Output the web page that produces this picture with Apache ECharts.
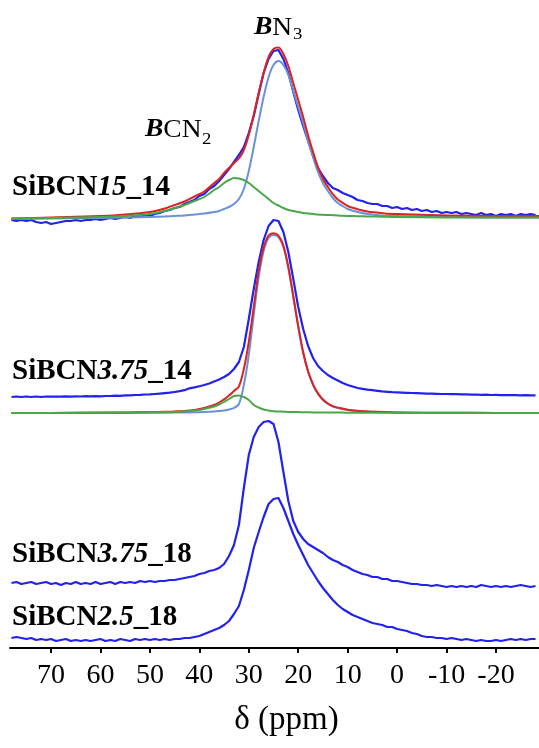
<!DOCTYPE html>
<html><head><meta charset="utf-8">
<script src="https://cdn.jsdelivr.net/npm/echarts@6/dist/echarts.min.js"></script>
<style>html,body{margin:0;padding:0;background:#fff}#c{width:539px;height:748px}</style>
</head><body><div id="c"></div>
<script>
// chemical shift grid of the measured spectra (ppm)
const ppm = [78,77,76,75,74,73,72,71,70,69,68,67,66,65,64,63,62,61,60,59,58,57,56,55,54,53,52,51,50,49,48,47,46,45,44,43,42,41,40,39,38,37,36,35,34,33,32,31,30,29,28,27,26,25,24,23,22,21,20,19,18,17,16,15,14,13,12,11,10,9,8,7,6,5,4,3,2,1,0,-1,-2,-3,-4,-5,-6,-7,-8,-9,-10,-11,-12,-13,-14,-15,-16,-17,-18,-19,-20,-21,-22,-23,-24,-25,-26,-27,-28];

// measured spectra (intensity, arbitrary units, relative to each baseline)
const sibcn15_14 = [-1,-2,-1,-2,-1,-3,-4,-3,-5,-4,-3,-2,-2,-1,-2,-1,-1,0,-1,0,1,0,1,2,1,3,2,4,3,5,6,8,9,11,12,15,17,19,23,25,30,33,38,44,50,57,64,72,86,103,125,146,160,168,169,160,146,127,109,93,78,63,51,43,36,31,29,26,24,22,19,18,16,15,15,13,13,11,12,10,11,9,10,8,9,7,8,6,7,6,7,5,6,5,4,6,4,5,3,5,4,5,3,5,4,5,4];
const sibcn375_14 = [0,0.5,0,0.5,0,0.5,0,0.5,0.3,0.5,0.3,0.6,0.4,0.7,0.5,0.8,0.6,0.9,0.7,1,1,1.3,1.2,1.6,1.6,2,2.1,2.5,2.6,3,3.4,3.8,4.3,5,5.8,6.8,8.7,9.6,10.8,12,13.5,15.5,17.5,20,23,28,35,50,78,108,135,157,171,177,176,165,145,118,90,68,51,39,31,26,22,19,16.5,14,12,10.5,9,8.2,7.4,6.8,6.2,5.6,5.2,4.8,4.6,4.3,4.1,4,3.8,3.6,3.4,3.3,3.1,3,3,2.8,2.9,2.6,2.6,2.4,2.5,2.2,2.3,2,2.2,1.9,2,1.8,1.9,1.6,1.8,1.6,1.7];
const sibcn375_18 = [0,1,-1,0,1,-1,0,1,-1,0,-2,0,-1,1,-1,0,-1,1,-1,0,1,-1,1,0,1,0,2,1,2,1,2,2,3,3,4,5,6,7,9,10,12,13,15,19,27,38,58,95,128,146,156,161,162,159,141,111,82,62,51,44,39,36,33,30,26,23,21,18,16,13,11,9,8,6,6,4,4,2,2,1,0,-1,-1,-2,-2,-3,-2,-3,-4,-3,-4,-3,-4,-3,-4,-2,-3,-4,-3,-4,-3,-4,-3,-2,-3,-4,-3];
const sibcn25_18 = [2,3,2,1,2,0,1,0,1,-1,0,1,-1,0,-1,0,-1,0,1,-1,0,-1,1,0,-1,1,0,1,0,1,0,1,0,1,1,2,2,3,4,6,8,10,12,15,19,26,34,50,70,92,108,123,136,141,142,132,119,106,95,85,75,67,59,52,46,40,35,31,28,25,23,21,19,17,16,15,13,13,11,10,9,7,6,4,3,3,2,2,1,2,1,0,1,0,-1,0,-1,-1,0,-1,0,1,0,1,0,1,1];

// fitted components (ppm grid of the fits)
const fitPpm = [78,70,60,55,50,47,45,43,41,39,37,36,35,34,33,32,31,30,29,28,27,26,25,24,23,22,21,20,19,18,17,16,15,14,13,12,11,10,8,6,4,2,0,-10,-20,-28.7];
const fit15_sum  = [0.5,1.5,3,4.5,7,10.5,14,17.5,22.5,27.5,36,40,46,51,56,60.5,69,84,104,126,146,162,170,171.5,165,153,136,119,102,83.5,67,51.5,40.2,32,24.8,19.5,16.2,13,9.8,7.6,6.4,5.2,5,3.5,3,3];
const fit15_bn3  = [0,0.5,1,1.5,2,2.5,3,3.5,4.5,5.5,7,8,10,12,15,20,30,48,72,98,122,142,154,158,154,144,128,112,96,78,62,47,36,28,21,16,13,10,7,5,4,3,3,2,1.5,1.5];
const fit15_bcn2 = [0.5,1,2,3,5,8,11,14,18,22,29,32,36,39,41,40.5,39,36,32,28,24,20,16,13.5,11,9,8,7,6,5.5,5,4.5,4.2,4,3.8,3.5,3.2,3,2.8,2.6,2.4,2.2,2,1.5,1.5,1.5];
const fit375_sum  = [0,0.1,0.4,0.6,0.9,1.2,1.6,2.1,3.1,5,8,10.5,13.6,17.5,22,26.5,44,71,106,141.5,165.5,177.5,179.8,177.5,167.3,146.1,117,86.9,60.8,41.7,28.6,19.6,13.5,9.5,6.9,5.4,4.4,3.3,2.3,1.6,1.2,0.9,0.6,0.2,0.1,0];
const fit375_bn3  = [0,0,0.1,0.1,0.2,0.3,0.4,0.5,0.7,1,1.5,2,2.6,3.5,5,9,28,58,98,136,162,175,178,176,166,145,116,86,60,41,28,19,13,9,6.5,5,4,3,2,1.4,1,0.7,0.5,0.2,0.1,0];
const fit375_bcn2 = [0,0.1,0.3,0.5,0.7,0.9,1.2,1.6,2.4,4,6.5,8.5,11,14,17,17.5,16,13,8,5.5,3.5,2.5,1.8,1.5,1.3,1.1,1,0.9,0.8,0.7,0.6,0.6,0.5,0.5,0.4,0.4,0.4,0.3,0.3,0.2,0.2,0.2,0.1,0,0,0];

const tickValues = [70,60,50,40,30,20,10,0,-10,-20];
const sampleNames = [['SiBCN','15','_14'],['SiBCN','3.75','_14'],['SiBCN','3.75','_18'],['SiBCN','2.5','_18']];
const peakNames = [['B','N','3'],['B','CN','2']];

// layout (stacking offsets, pixels-like units)
const off = {s15: 429, s375: 251, f375: 235, s375_18: 65, s25: 8};
const BLUE = '#2222ee', RED = '#dd2222', LBLUE = '#6a92d8', GREEN = '#4aa84a';

function pts(xs, ys, o) { return xs.map((x, i) => [x, ys[i] + o]); }
function line(name, data, color, width, smooth, z) {
  return {type: 'line', name, data, showSymbol: false, smooth: smooth, z: z, silent: true,
    lineStyle: {color, width, join: 'round'}, itemStyle: {color}, animation: false};
}

const chart = echarts.init(document.getElementById('c'), null, {renderer: 'canvas'});
const serif = '"Liberation Serif", "Times New Roman", serif';
const rich = {
  b: {fontFamily: serif, fontWeight: 'bold', fontSize: 29, fill: '#000'},
  i: {fontFamily: serif, fontWeight: 'bold', fontStyle: 'italic', fontSize: 29, fill: '#000'}
};
const labelY = [188, 372, 555, 618];
const graphics = sampleNames.map((p, k) => ({
  type: 'text', x: 12, y: labelY[k], z: 100,
  style: {text: '{b|' + p[0] + '}{i|' + p[1] + '}{b|' + p[2] + '}', rich, verticalAlign: 'middle'}
}));
const pk = {
  bi: {fontFamily: serif, fontWeight: 'bold', fontStyle: 'italic', fontSize: 25, fill: '#000'},
  r: {fontFamily: serif, fontSize: 25, fill: '#000'}
};
graphics.push(
  {type: 'text', x: 254, y: 28, scaleX: 1.1, z: 100, style: {text: '{bi|' + peakNames[0][0] + '}{r|' + peakNames[0][1] + '}', rich: pk, verticalAlign: 'middle'}},
  {type: 'text', x: 293, y: 35, scaleX: 1.1, z: 100, style: {text: peakNames[0][2], font: '17px "Liberation Serif"', fill: '#000', verticalAlign: 'middle'}},
  {type: 'text', x: 145, y: 130, scaleX: 1.1, z: 100, style: {text: '{bi|' + peakNames[1][0] + '}{r|' + peakNames[1][1] + '}', rich: pk, verticalAlign: 'middle'}},
  {type: 'text', x: 202, y: 140, scaleX: 1.1, z: 100, style: {text: peakNames[1][2], font: '17px "Liberation Serif"', fill: '#000', verticalAlign: 'middle'}}
);

chart.setOption({
  backgroundColor: '#fff',
  animation: false,
  grid: {left: 10, right: 0, top: 28, bottom: 100, containLabel: false},
  xAxis: {
    type: 'value', min: -28.7, max: 78.3, inverse: true,
    axisLine: {onZero: false, lineStyle: {color: '#000', width: 2}},
    axisTick: {customValues: tickValues, length: 5, lineStyle: {color: '#000', width: 2}},
    axisLabel: {customValues: tickValues, fontFamily: serif, fontSize: 28, color: '#000', margin: 14},
    splitLine: {show: false},
    name: 'δ (ppm)', nameLocation: 'middle', nameGap: 56,
    nameTextStyle: {fontFamily: serif, fontSize: 33, color: '#000', padding: [0, 0, 0, 24]}
  },
  yAxis: {type: 'value', min: 0, max: 620, show: false},
  series: [
    line('SiBCN15_14', pts(ppm, sibcn15_14, off.s15), BLUE, 2.2, false, 2),
    line('BN3 fit 15_14', pts(fitPpm, fit15_bn3, off.s15), LBLUE, 2, 0.3, 3),
    line('sum fit 15_14', pts(fitPpm, fit15_sum, off.s15), RED, 2, 0.3, 4),
    line('BCN2 fit 15_14', pts(fitPpm, fit15_bcn2, off.s15), GREEN, 2, 0.3, 5),
    line('SiBCN3.75_14', pts(ppm, sibcn375_14, off.s375), BLUE, 2.2, false, 2),
    line('BN3 fit 3.75_14', pts(fitPpm, fit375_bn3, off.f375), LBLUE, 2, 0.3, 3),
    line('sum fit 3.75_14', pts(fitPpm, fit375_sum, off.f375), RED, 2, 0.3, 4),
    line('BCN2 fit 3.75_14', pts(fitPpm, fit375_bcn2, off.f375), GREEN, 2, 0.3, 5),
    line('SiBCN3.75_18', pts(ppm, sibcn375_18, off.s375_18), BLUE, 2.2, false, 2),
    line('SiBCN2.5_18', pts(ppm, sibcn25_18, off.s25), BLUE, 2.2, false, 2)
  ],
  graphic: graphics
});
</script></body></html>
